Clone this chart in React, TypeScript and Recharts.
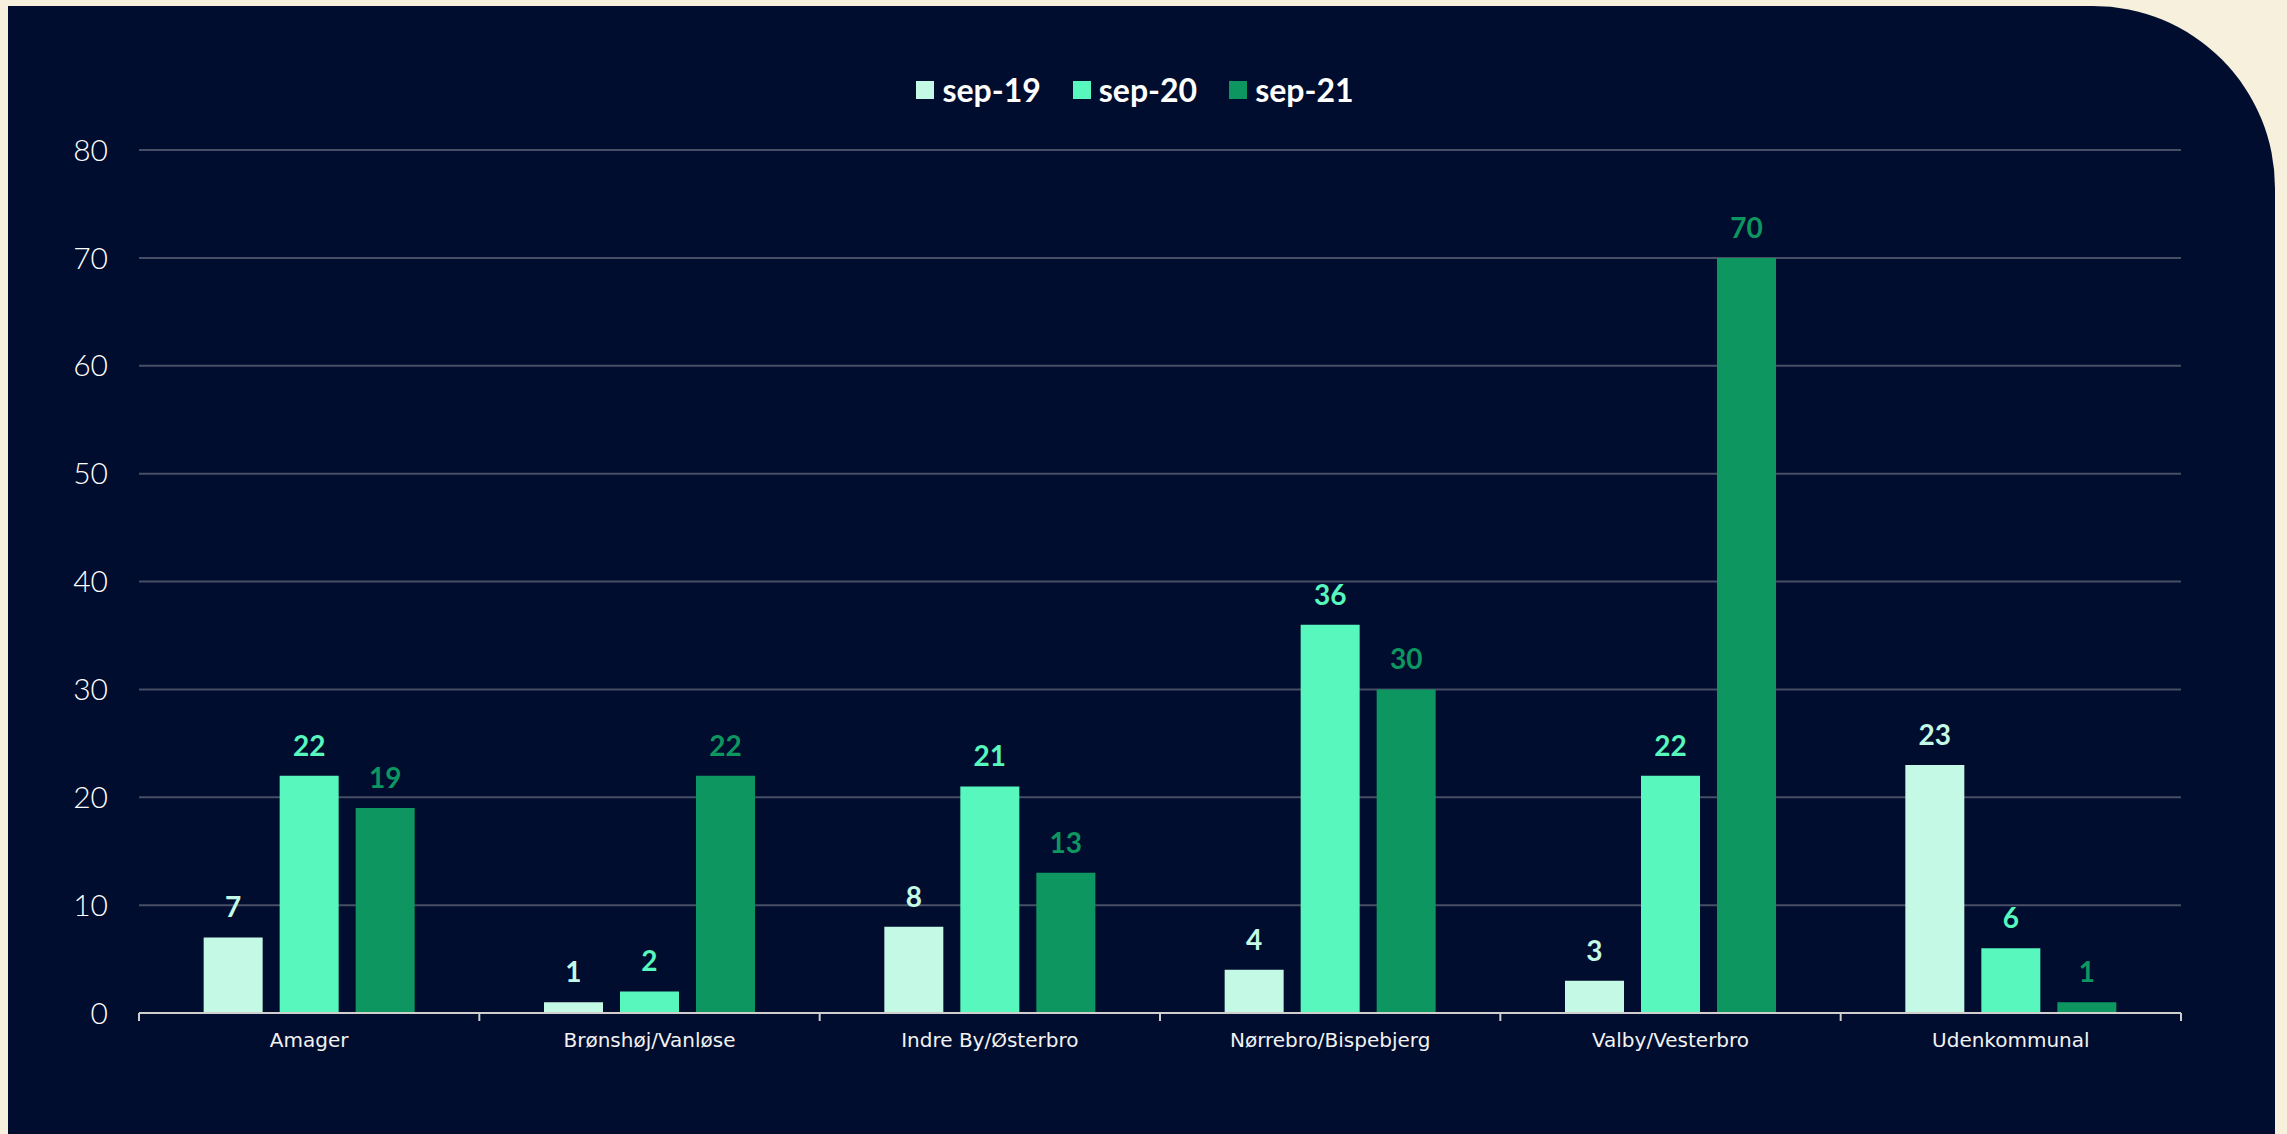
import React from "react";
import { BarChart, Bar, XAxis, YAxis, CartesianGrid, Legend, LabelList } from "recharts";

const categories = [
  "Amager",
  "Brønshøj/Vanløse",
  "Indre By/Østerbro",
  "Nørrebro/Bispebjerg",
  "Valby/Vesterbro",
  "Udenkommunal",
];
const sep19 = [7, 1, 8, 4, 3, 23];
const sep20 = [22, 2, 21, 36, 22, 6];
const sep21 = [19, 22, 13, 30, 70, 1];
const yTicks = [0, 10, 20, 30, 40, 50, 60, 70, 80];

const seriesNames = ["sep-19", "sep-20", "sep-21"];
const seriesColors = ["#C4F9E6", "#58F7BE", "#0D9660"];

const data = categories.map((c, i) => ({
  name: c,
  "sep-19": sep19[i],
  "sep-20": sep20[i],
  "sep-21": sep21[i],
}));

const FONT = "Lato, 'Open Sans', sans-serif";
const XFONT = "'DejaVu Sans', sans-serif";
const CHART_W = 2267;
const CHART_H = 1128;
const MARGIN = { top: 64, right: 94, left: 0, bottom: 61 };
const Y_W = 131;
const PLOT_W = CHART_W - MARGIN.right - MARGIN.left - Y_W;
const AXIS_COLOR = "#CFCFCF";

const XTick = (props: any) => {
  const { x, y, payload, index } = props;
  const half =
    payload && typeof payload.offset === "number" && payload.offset > 0
      ? payload.offset
      : PLOT_W / categories.length / 2;
  const axisY = y - 20;
  return (
    <g>
      <line x1={x - half} x2={x - half} y1={axisY} y2={axisY + 8} stroke={AXIS_COLOR} strokeWidth={2} />
      {index === categories.length - 1 && (
        <line x1={x + half} x2={x + half} y1={axisY} y2={axisY + 8} stroke={AXIS_COLOR} strokeWidth={2} />
      )}
      <text
        x={x}
        y={y}
        dy="0.71em"
        textAnchor="middle"
        fill="#F2F2F2"
        fontSize={20}
        fontFamily={XFONT}
      >
        {payload.value}
      </text>
    </g>
  );
};

const LegendContent = (props: any) => {
  const items = props.payload || [];
  return (
    <div style={{ height: 80, width: "100%" }}>
      <div
        style={{
          height: 40,
          display: "flex",
          justifyContent: "center",
          alignItems: "center",
          paddingRight: 13,
          gap: 32,
        }}
      >
        {items.map((it: any) => (
          <div key={it.value} style={{ display: "flex", alignItems: "center" }}>
            <div style={{ width: 18, height: 18, background: it.color, marginRight: 8 }} />
            <span
              style={{
                color: "#FFFFFF",
                fontFamily: FONT,
                fontWeight: 700,
                fontSize: 32,
                lineHeight: "40px",
              }}
            >
              {it.value}
            </span>
          </div>
        ))}
      </div>
    </div>
  );
};

export default function App() {
  return (
    <div
      style={{
        position: "absolute",
        top: 0,
        left: 0,
        width: 2287,
        height: 1134,
        overflow: "hidden",
        background: "#F6F0DD",
      }}
    >
      <div
        style={{
          position: "absolute",
          left: 8,
          top: 6,
          width: CHART_W,
          height: CHART_H + 20,
          background: "#010D2E",
          borderTopRightRadius: 182,
        }}
      >
        <BarChart
          width={CHART_W}
          height={CHART_H}
          data={data}
          margin={MARGIN}
          barCategoryGap="19%"
          barGap={17}
        >
          <CartesianGrid vertical={false} stroke="#474E66" strokeWidth={2} />
          <Legend
            verticalAlign="top"
            align="center"
            content={<LegendContent />}
            wrapperStyle={{ left: 0, width: CHART_W, top: MARGIN.top }}
          />
          <XAxis
            dataKey="name"
            height={60}
            axisLine={{ stroke: AXIS_COLOR, strokeWidth: 2 }}
            tickLine={false}
            tickSize={0}
            tickMargin={20}
            interval={0}
            tick={<XTick />}
          />
          <YAxis
            width={Y_W}
            domain={[0, 80]}
            ticks={yTicks}
            axisLine={false}
            tickLine={false}
            tickSize={0}
            tickMargin={31}
            tick={{ fill: "#FFFFFF", fontSize: 30, fontFamily: FONT, fontWeight: 300 }}
          />
          {seriesNames.map((s, i) => (
            <Bar key={s} dataKey={s} fill={seriesColors[i]} isAnimationActive={false}>
              <LabelList
                dataKey={s}
                position="top"
                offset={20}
                fill={seriesColors[i]}
                fontSize={28}
                fontWeight={700}
                fontFamily={FONT}
              />
            </Bar>
          ))}
        </BarChart>
      </div>
    </div>
  );
}
